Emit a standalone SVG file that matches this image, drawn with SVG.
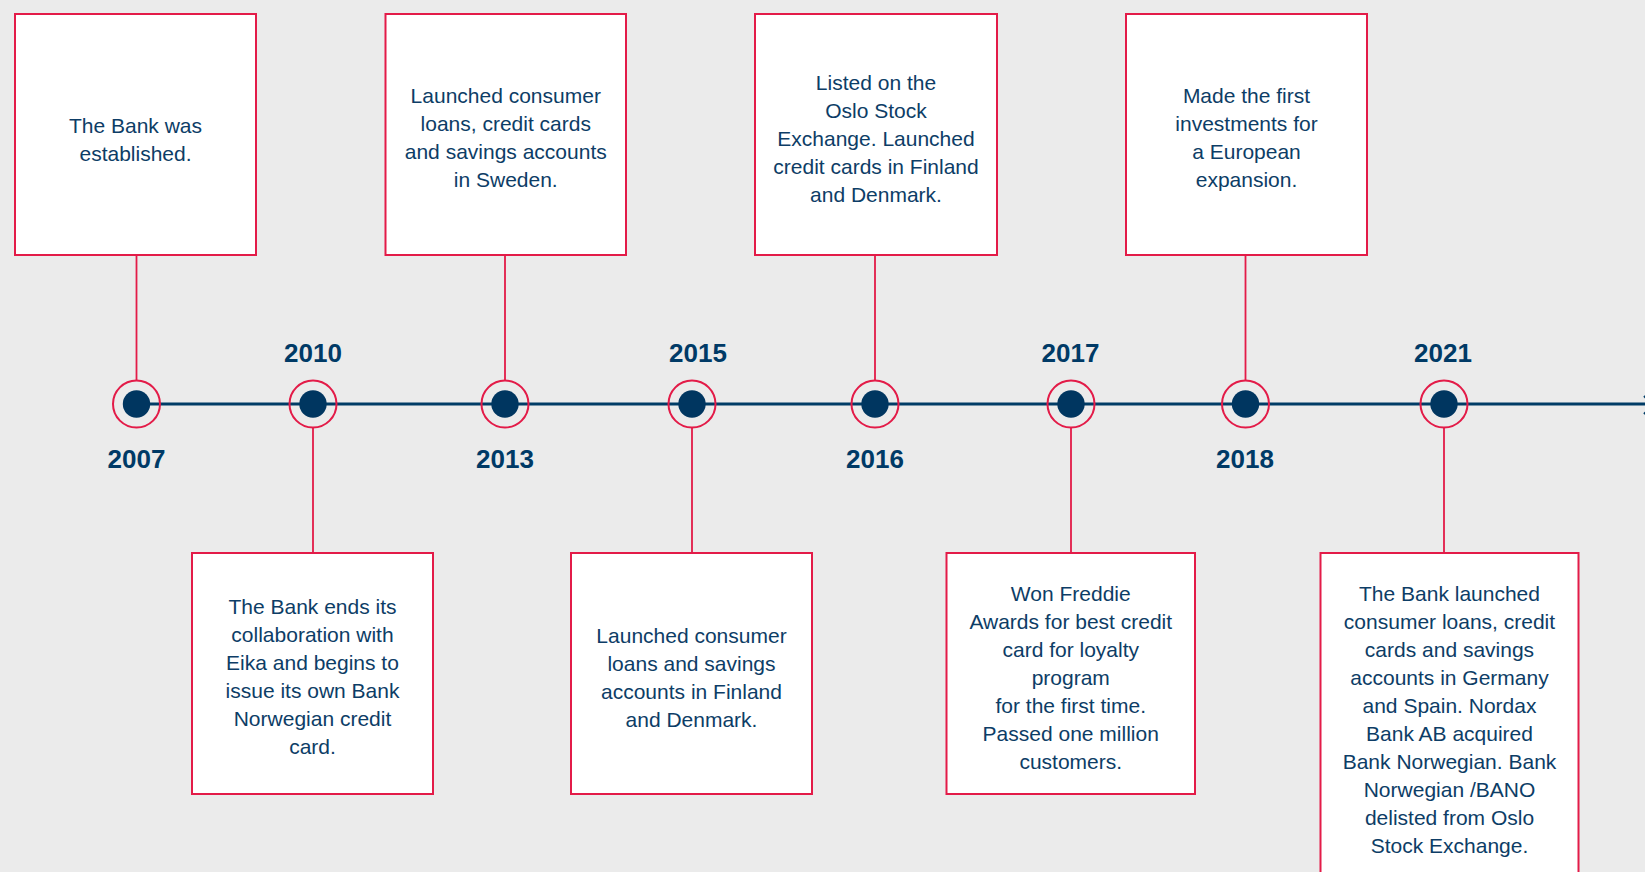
<svg xmlns="http://www.w3.org/2000/svg" width="1645" height="872" viewBox="0 0 1645 872">
<style>
.bg{fill:#ebebeb}
.box{fill:#ffffff;stroke:#e31b48;stroke-width:2}
.conn{stroke:#e31b48;stroke-width:1.8;fill:none}
.ring{fill:none;stroke:#e31b48;stroke-width:2}
.dot{fill:#003660}
.axis{stroke:#003c66;stroke-width:3;fill:none}
.txt{font-family:"Liberation Sans",Arial,sans-serif;font-size:21px;fill:#0d3d66;text-anchor:middle}
.year{font-family:"Liberation Sans",Arial,sans-serif;font-size:26px;font-weight:bold;fill:#003a66;text-anchor:middle}
</style>
<rect class="bg" x="0" y="0" width="1645" height="872"/>
<g id="connectors">
<line class="axis" x1="137" y1="404" x2="1660" y2="404"/>
<polyline points="1644,396 1653,405 1644,414" fill="none" stroke="#003c66" stroke-width="2"/>
<line class="conn" x1="136.5" y1="255" x2="136.5" y2="380.5"/>
<line class="conn" x1="313" y1="427.5" x2="313" y2="553"/>
<line class="conn" x1="505" y1="255" x2="505" y2="380.5"/>
<line class="conn" x1="692" y1="427.5" x2="692" y2="553"/>
<line class="conn" x1="875" y1="255" x2="875" y2="380.5"/>
<line class="conn" x1="1071" y1="427.5" x2="1071" y2="553"/>
<line class="conn" x1="1245.5" y1="255" x2="1245.5" y2="380.5"/>
<line class="conn" x1="1444" y1="427.5" x2="1444" y2="553"/>
</g>
<g id="m2007">
<circle class="ring" cx="136.5" cy="404" r="23.5"/><circle class="dot" cx="136.5" cy="404" r="13.7"/>
<text class="year" x="136.5" y="468">2007</text>
</g>
<g id="m2010">
<circle class="ring" cx="313" cy="404" r="23.5"/><circle class="dot" cx="313" cy="404" r="13.7"/>
<text class="year" x="313" y="362">2010</text>
</g>
<g id="m2013">
<circle class="ring" cx="505" cy="404" r="23.5"/><circle class="dot" cx="505" cy="404" r="13.7"/>
<text class="year" x="505" y="468">2013</text>
</g>
<g id="m2015">
<circle class="ring" cx="692" cy="404" r="23.5"/><circle class="dot" cx="692" cy="404" r="13.7"/>
<text class="year" x="698" y="362">2015</text>
</g>
<g id="m2016">
<circle class="ring" cx="875" cy="404" r="23.5"/><circle class="dot" cx="875" cy="404" r="13.7"/>
<text class="year" x="875" y="468">2016</text>
</g>
<g id="m2017">
<circle class="ring" cx="1071" cy="404" r="23.5"/><circle class="dot" cx="1071" cy="404" r="13.7"/>
<text class="year" x="1070.5" y="362">2017</text>
</g>
<g id="m2018">
<circle class="ring" cx="1245.5" cy="404" r="23.5"/><circle class="dot" cx="1245.5" cy="404" r="13.7"/>
<text class="year" x="1245" y="468">2018</text>
</g>
<g id="m2021">
<circle class="ring" cx="1444" cy="404" r="23.5"/><circle class="dot" cx="1444" cy="404" r="13.7"/>
<text class="year" x="1443" y="362">2021</text>
</g>
<g id="box2007">
<rect class="box" x="15" y="14" width="241" height="241"/>
<text class="txt" x="135.5" y="132.7">The Bank was</text>
<text class="txt" x="135.5" y="160.7">established.</text>
</g>
<g id="box2013">
<rect class="box" x="385.5" y="14" width="240.5" height="241"/>
<text class="txt" x="505.75" y="103.3">Launched consumer</text>
<text class="txt" x="505.75" y="131.3">loans, credit cards</text>
<text class="txt" x="505.75" y="159.3">and savings accounts</text>
<text class="txt" x="505.75" y="187.3">in Sweden.</text>
</g>
<g id="box2016">
<rect class="box" x="755" y="14" width="242" height="241"/>
<text class="txt" x="876" y="90">Listed on the</text>
<text class="txt" x="876" y="118">Oslo Stock</text>
<text class="txt" x="876" y="146">Exchange. Launched</text>
<text class="txt" x="876" y="174">credit cards in Finland</text>
<text class="txt" x="876" y="202">and Denmark.</text>
</g>
<g id="box2018">
<rect class="box" x="1126" y="14" width="241" height="241"/>
<text class="txt" x="1246.5" y="103.3">Made the first</text>
<text class="txt" x="1246.5" y="131.3">investments for</text>
<text class="txt" x="1246.5" y="159.3">a European</text>
<text class="txt" x="1246.5" y="187.3">expansion.</text>
</g>
<g id="box2010">
<rect class="box" x="192" y="553" width="241" height="241"/>
<text class="txt" x="312.5" y="614">The Bank ends its</text>
<text class="txt" x="312.5" y="642">collaboration with</text>
<text class="txt" x="312.5" y="670">Eika and begins to</text>
<text class="txt" x="312.5" y="698">issue its own Bank</text>
<text class="txt" x="312.5" y="726">Norwegian credit</text>
<text class="txt" x="312.5" y="754">card.</text>
</g>
<g id="box2015">
<rect class="box" x="571" y="553" width="241" height="241"/>
<text class="txt" x="691.5" y="642.5">Launched consumer</text>
<text class="txt" x="691.5" y="670.5">loans and savings</text>
<text class="txt" x="691.5" y="698.5">accounts in Finland</text>
<text class="txt" x="691.5" y="726.5">and Denmark.</text>
</g>
<g id="box2017">
<rect class="box" x="946.5" y="553" width="248.5" height="241"/>
<text class="txt" x="1070.75" y="600.7">Won Freddie</text>
<text class="txt" x="1070.75" y="628.7">Awards for best credit</text>
<text class="txt" x="1070.75" y="656.7">card for loyalty</text>
<text class="txt" x="1070.75" y="684.7">program</text>
<text class="txt" x="1070.75" y="712.7">for the first time.</text>
<text class="txt" x="1070.75" y="740.7">Passed one million</text>
<text class="txt" x="1070.75" y="768.7">customers.</text>
</g>
<g id="box2021">
<rect class="box" x="1320.5" y="553" width="258" height="326"/>
<text class="txt" x="1449.5" y="600.7">The Bank launched</text>
<text class="txt" x="1449.5" y="628.7">consumer loans, credit</text>
<text class="txt" x="1449.5" y="656.7">cards and savings</text>
<text class="txt" x="1449.5" y="684.7">accounts in Germany</text>
<text class="txt" x="1449.5" y="712.7">and Spain. Nordax</text>
<text class="txt" x="1449.5" y="740.7">Bank AB acquired</text>
<text class="txt" x="1449.5" y="768.7">Bank Norwegian. Bank</text>
<text class="txt" x="1449.5" y="796.7">Norwegian /BANO</text>
<text class="txt" x="1449.5" y="824.7">delisted from Oslo</text>
<text class="txt" x="1449.5" y="852.7">Stock Exchange.</text>
</g>
</svg>
